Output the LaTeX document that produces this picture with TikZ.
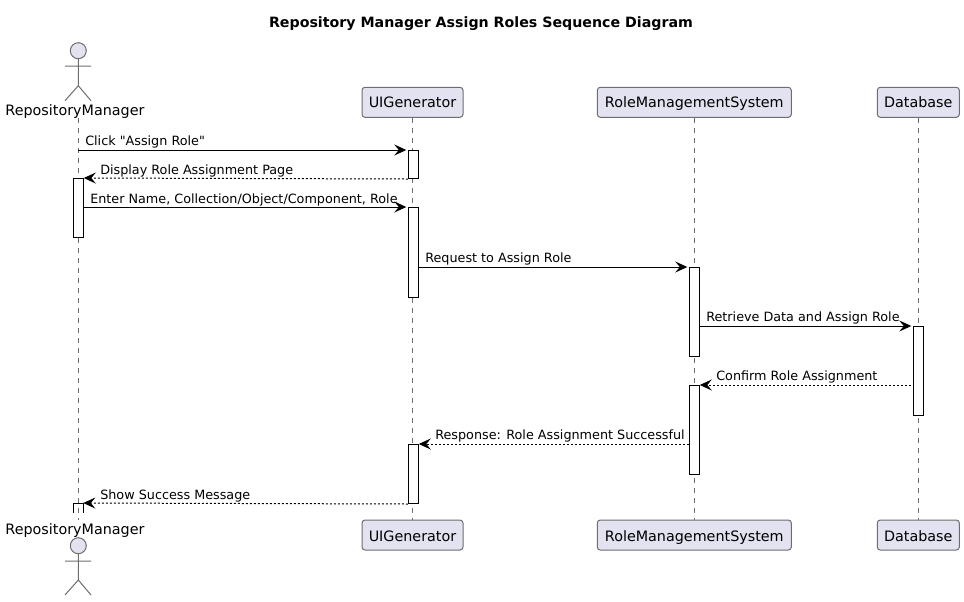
\documentclass[tikz,border=0pt]{standalone}
\usepackage{fontspec}
\setmainfont{DejaVu Sans}
\newfontfamily\plainfont{DejaVu Sans}
\usetikzlibrary{arrows.meta}
\definecolor{partfill}{HTML}{E2E2F0}
\definecolor{partline}{HTML}{6E6E6E}
\def\px{0.75pt}
\tikzset{
  part/.style={draw=partline,fill=partfill,line width=\px,rounded corners=3*\px,minimum height=30*\px,inner sep=0pt,text height=9.5pt,text depth=2pt,font=\fontsize{10.75}{12}\selectfont},
  partb/.style={part,text height=11pt},
  actorname/.style={inner sep=0pt,font=\fontsize{10.75}{12}\selectfont},
  actorbody/.style={draw=partline,line width=\px},
  lifeline/.style={draw=partline,line width=\px,dash pattern=on 5*\px off 5*\px},
  act/.style={draw=black,fill=white,line width=\px,anchor=north,minimum width=10*\px,inner sep=0pt},
  msg/.style={draw=black,line width=\px,shorten >=1.5*\px,-{Stealth[length=12*\px,width=11*\px,inset=4.5*\px]}},
  reply/.style={msg,shorten >=0pt,dash pattern=on 2*\px off 2*\px},
  msgtext/.style={anchor=west,inner sep=0pt,font=\plainfont\fontsize{9.58}{12}\selectfont}
}
\begin{document}
\begin{tikzpicture}[x=0.75pt,y=-0.75pt]
\useasboundingbox (0,0) rectangle (964,601);

\node[font=\bfseries\fontsize{10.65}{12}\selectfont] (title) at (481,24) {Repository Manager Assign Roles Sequence Diagram};

% top row
\node[actorname] (rm) at (75,111.5) {RepositoryManager};
\node[part,minimum width=101*\px] (ui) at (412.5,102.3) {UIGenerator};
\node[part,minimum width=194*\px] (role) at (694.3,102.3) {RoleManagementSystem};
\node[part,minimum width=82*\px] (db) at (918.3,102.3) {Database};

% bottom row
\node[actorname] (rmb) at (75,530.5) {RepositoryManager};
\node[partb,minimum width=101*\px] (uib) at (412.5,535) {UIGenerator};
\node[partb,minimum width=194*\px] (roleb) at (694.3,535) {RoleManagementSystem};
\node[partb,minimum width=82*\px] (dbb) at (918.3,535) {Database};

% lifelines
\coordinate (rmtop) at (78.3,118);
\coordinate (rmbot) at (78.3,520);
\draw[lifeline] (rmtop) -- (rmbot);
\draw[lifeline] (ui.south) -- (uib.north);
\draw[lifeline] (role.south) -- (roleb.north);
\draw[lifeline] (db.south) -- (dbb.north);

% actors
\draw[actorbody,fill=partfill] (78.3,50.7) circle (8);
\draw[actorbody] (78.3,58.7) -- (78.3,85.7) (65,66) -- (91,66) (65,100.7) -- (78.3,85.7) -- (91,100.7);
\draw[actorbody,fill=partfill] (78.3,545.7) circle (8);
\draw[actorbody] (78.3,553.7) -- (78.3,580) (65,561) -- (91,561) (65,595) -- (78.3,580) -- (91,595);

% activations
\node[act,minimum height=59*\px] (rm1) at (78.3,178) {};
\node[act,minimum height=28*\px] (ui1) at (413.3,150) {};
\node[act,minimum height=90*\px] (ui2) at (413.3,207) {};
\node[act,minimum height=59*\px] (ui3) at (413.3,444) {};
\node[act,minimum height=89*\px] (role1) at (694.3,267) {};
\node[act,minimum height=89*\px] (role2) at (694.3,385) {};
\node[act,minimum height=89*\px] (db1) at (918.3,326) {};
\coordinate (rm2) at (78.3,503);
\coordinate (rm2l) at (73.3,513);
\coordinate (rm2r) at (83.3,513);
\draw[draw=black,line width=\px] (rm2l) |- (rm2r |- rm2) -- (rm2r);

% messages
\draw[msg] (ui1.north west -| rm1.north) -- (ui1.north west);
\node[msgtext] (m1) at (85,141.5) {Click "Assign Role"};
\draw[reply] (ui1.south west) -- (rm1.north east);
\node[msgtext] (m2) at (100,170.5) {Display Role Assignment Page};
\draw[msg] (ui2.north west -| rm1.east) -- (ui2.north west);
\node[msgtext] (m3) at (90,199.5) {Enter Name, Collection/Object/Component, Role};
\draw[msg] (role1.north west -| ui2.east) -- (role1.north west);
\node[msgtext] (m4) at (425,258.5) {Request to Assign Role};
\draw[msg] (db1.north west -| role1.east) -- (db1.north west);
\node[msgtext] (m5) at (706,317.5) {Retrieve Data and Assign Role};
\draw[reply,shorten <=2*\px] (role2.north east -| db1.west) -- (role2.north east);
\node[msgtext] (m6) at (716,376.5) {Confirm Role Assignment};
\draw[reply] (ui3.north east -| role2.west) -- (ui3.north east);
\node[msgtext] (m7) at (435,435.5) {Response: Role Assignment Successful};
\draw[reply] (ui3.south west) -- (rm2r |- rm2);
\node[msgtext] (m8) at (100,495.5) {Show Success Message};
\end{tikzpicture}
\end{document}
